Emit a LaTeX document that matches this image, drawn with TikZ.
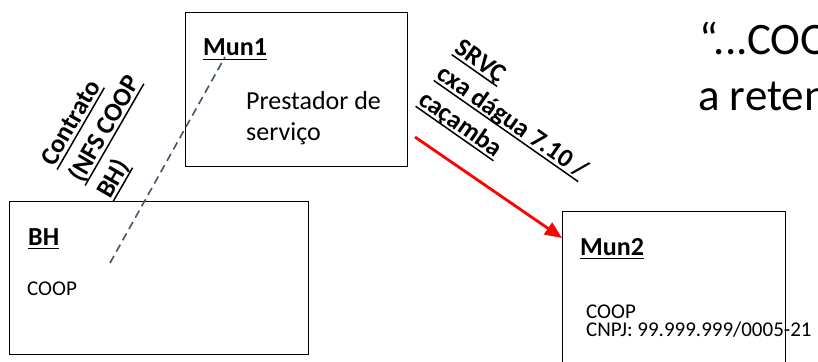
\documentclass[tikz,border=0pt]{standalone}
\usepackage{fontspec}
\setmainfont{Carlito}
\usetikzlibrary{arrows.meta,calc}
\definecolor{slate}{HTML}{44546A}
\definecolor{redarrow}{HTML}{FF0000}
\newsavebox\ulbox
\newcommand\myul[1]{\leavevmode\sbox\ulbox{#1}\rlap{\rule[-4.2pt]{\wd\ulbox}{1.5pt}}\usebox\ulbox}
\begin{document}
\begin{tikzpicture}[x=1pt,y=-1pt,
  box/.style={draw=black, line width=1.4pt, inner sep=0pt, anchor=north west},
  lbl/.style={inner sep=0pt, anchor=base west, font=\fontsize{26}{31}\selectfont},
  hdr/.style={inner sep=0pt, anchor=base west, font=\fontsize{26}{31}\selectfont\bfseries},
  small/.style={inner sep=0pt, anchor=base west, font=\fontsize{21}{25}\selectfont},
  big/.style={inner sep=0pt, anchor=base west, font=\fontsize{45}{54}\selectfont},
  dashline/.style={draw=slate, line width=1.6pt, dash pattern=on 8pt off 5pt},
  redarr/.style={draw=redarrow, line width=2.8pt, -{Triangle[length=17pt,width=14pt]}}
]
\useasboundingbox (0,0) rectangle (818,361);
\clip (0,0) rectangle (818,361);
\fill[white] (0,0) rectangle (818,361);

% boxes
\node[box, minimum width=222pt, minimum height=154pt] (mun1) at (185,12) {};
\node[box, minimum width=299pt, minimum height=153pt] (bh) at (9,201) {};
\node[box, minimum width=223pt, minimum height=200pt] (mun2) at (562,211) {};

% box texts
\node[hdr] (tmun1) at (203,56) {\myul{Mun1}};
\node[lbl] (tprest1) at (246,109) {Prestador de};
\node[lbl] (tprest2) at (246,140) {serviço};
\node[hdr] (tbh) at (28,245) {\myul{BH}};
\node[small] (tcoop1) at (27,295) {COOP};
\node[hdr] (tmun2) at (580,255) {\myul{Mun2}};
\node[small] (tcoop2) at (586,318) {COOP};
\node[small] (tcnpj) at (586,336) {CNPJ: 99.999.999/0005-21};

% big quote
\node[big] (q1) at (699,54) {“...COOP};
\node[big] (q2) at (698,110) {a retenção};

% rotated labels
\node[hdr, rotate=60] (c1) at (54,168) {\myul{Contrato}};
\node[hdr, rotate=60] (c2) at (82,184) {\myul{(NFS COOP}};
\node[hdr, rotate=60] (c3) at (110,200) {\myul{BH)}};

\node[hdr, rotate=-35] (s1) at (453.5,51.7) {\myul{SRVÇ}};
\node[hdr, rotate=-35] (s2) at (435.5,77.5) {\myul{cxa dágua 7.10 /}};
\node[hdr, rotate=-35] (s3) at (417.4,103.3) {\myul{caçamba}};

% connectors
\coordinate (d1) at (110,263);
\coordinate (d2) at (225,57);
\draw[dashline] (d1) -- (d2);

\coordinate (r1) at (415,137);
\draw[redarr] (r1) -- ($(mun2.north west)+(0,27)$);
\end{tikzpicture}
\end{document}
